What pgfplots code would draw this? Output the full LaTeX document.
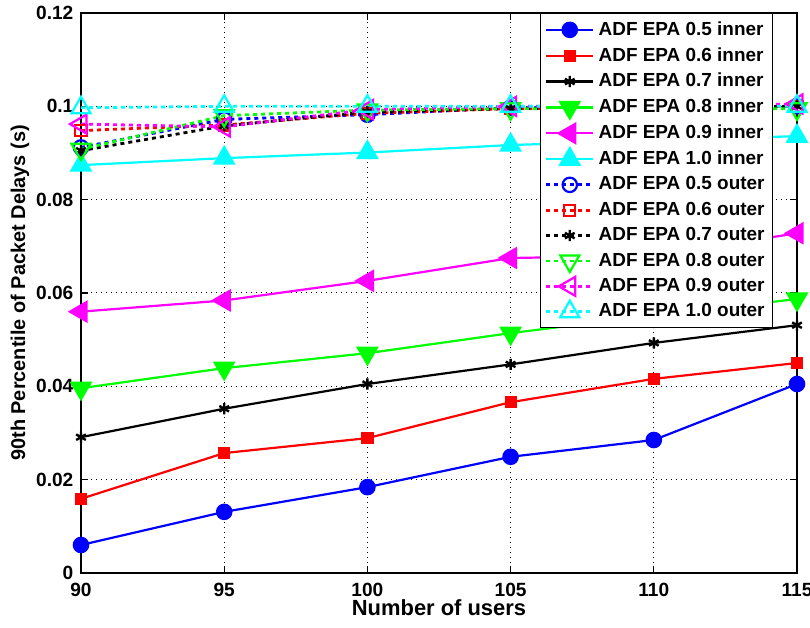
\documentclass[border=0pt]{standalone}
\usepackage{fontspec}
\setmainfont{Liberation Sans}
\usepackage{pgfplots}
\pgfplotsset{compat=1.18}
\definecolor{mblue}{rgb}{0,0,1}
\definecolor{mred}{rgb}{1,0,0}
\definecolor{mgreen}{rgb}{0,1,0}
\definecolor{mmag}{rgb}{1,0,1}
\definecolor{mcyan}{rgb}{0,1,1}
\begin{document}
\begin{tikzpicture}
\begin{axis}[
  scale only axis, width=358bp, height=280bp,
  xmin=90, xmax=115, ymin=0, ymax=0.12,
  xtick={90,95,100,105,110,115},
  ytick={0,0.02,0.04,0.06,0.08,0.1,0.12},
  yticklabels={0,0.02,0.04,0.06,0.08,0.1,0.12},
  /pgf/number format/assume math mode=true,
  ticklabel style={font=\bfseries\fontsize{9.6}{11.5}\selectfont},
  xticklabel style={yshift=-1.5bp},
  yticklabel style={xshift=-0.3bp},
  tick align=inside, major tick length=3.5bp,
  tick style={black, line width=0.6bp},
  axis line style={line width=1.1bp},
  grid=major,
  major grid style={black, line width=0.5bp, dash pattern=on 0.5bp off 2bp},
  xlabel={Number of users},
  ylabel={90th Percentile of Packet Delays (s)},
  xlabel style={font=\bfseries\fontsize{11}{13}\selectfont, at={(axis description cs:0.5,0)}, anchor=center, yshift=-17.5bp},
  ylabel style={font=\bfseries\fontsize{10}{12}\selectfont, at={(axis description cs:0,0.5)}, anchor=center, yshift=30.5bp},
  legend style={at={(axis description cs:0.9665,1)}, anchor=north east, draw=black, line width=0.5bp,
    row sep=0.6bp, inner sep=2bp,
    nodes={font=\bfseries\fontsize{9.5}{11}\selectfont, inner xsep=2bp}},
  legend cell align=left,
  legend image code/.code={\draw[mark repeat=2,mark phase=2,#1] plot coordinates {(0bp,0bp) (11.75bp,0bp) (23.5bp,0bp)};},
  every axis plot/.append style={line width=1.1bp},
  clip=false,
]
% inner (solid)
\addplot[color=mblue, mark=*, mark size=3.6bp, mark options={solid}] coordinates {(90,0.0060) (95,0.0131) (100,0.0184) (105,0.0249) (110,0.0285) (115,0.0405)};
\addlegendentry{ADF EPA 0.5 inner}
\addplot[color=mred, mark=square*, mark size=2.5bp, mark options={solid}] coordinates {(90,0.0159) (95,0.0257) (100,0.0289) (105,0.0366) (110,0.0416) (115,0.0450)};
\addlegendentry{ADF EPA 0.6 inner}
\addplot[color=black, mark=asterisk, mark size=2.8bp, mark options={solid, line width=1.2bp}] coordinates {(90,0.0291) (95,0.0352) (100,0.0405) (105,0.0447) (110,0.0493) (115,0.0531)};
\addlegendentry{ADF EPA 0.7 inner}
\addplot[color=mgreen, mark=triangle*, mark size=5.5bp, mark options={solid, rotate=180}] coordinates {(90,0.0396) (95,0.0439) (100,0.0471) (105,0.0514) (110,0.0552) (115,0.0587)};
\addlegendentry{ADF EPA 0.8 inner}
\addplot[color=mmag, mark=triangle*, mark size=5.5bp, mark options={solid, rotate=90}] coordinates {(90,0.0560) (95,0.0584) (100,0.0626) (105,0.0675) (110,0.0680) (115,0.0728)};
\addlegendentry{ADF EPA 0.9 inner}
\addplot[color=mcyan, mark=triangle*, mark size=5.5bp, mark options={solid}] coordinates {(90,0.0874) (95,0.0889) (100,0.0901) (105,0.0917) (110,0.0927) (115,0.0936)};
\addlegendentry{ADF EPA 1.0 inner}
% outer (dotted)
\addplot[color=mblue, line width=1.4bp, dash pattern=on 2bp off 2bp, mark=o, mark size=3.6bp, mark options={solid, line width=1.1bp}] coordinates {(90,0.0912) (95,0.0972) (100,0.0982) (105,0.0997) (110,0.0998) (115,0.1000)};
\addlegendentry{ADF EPA 0.5 outer}
\addplot[color=mred, line width=1.4bp, dash pattern=on 2bp off 2bp, mark=square, mark size=2.8bp, mark options={solid, line width=1.1bp}] coordinates {(90,0.0948) (95,0.0960) (100,0.0985) (105,0.0995) (110,0.0998) (115,0.1000)};
\addlegendentry{ADF EPA 0.6 outer}
\addplot[color=black, line width=1.4bp, dash pattern=on 2bp off 2bp, mark=asterisk, mark size=2.8bp, mark options={solid, line width=1.2bp}] coordinates {(90,0.0905) (95,0.0958) (100,0.0988) (105,0.0995) (110,0.0998) (115,0.1000)};
\addlegendentry{ADF EPA 0.7 outer}
\addplot[color=mgreen, line width=1.4bp, dash pattern=on 2bp off 2bp, mark=triangle, mark size=5.5bp, mark options={solid, rotate=180, line width=1.1bp}] coordinates {(90,0.0908) (95,0.0980) (100,0.0992) (105,0.0995) (110,0.0995) (115,0.0995)};
\addlegendentry{ADF EPA 0.8 outer}
\addplot[color=mmag, line width=1.4bp, dash pattern=on 2bp off 2bp, mark=triangle, mark size=5.5bp, mark options={solid, rotate=90, line width=1.1bp}] coordinates {(90,0.0962) (95,0.0956) (100,0.0993) (105,0.1000) (110,0.1000) (115,0.1005)};
\addlegendentry{ADF EPA 0.9 outer}
\addplot[color=mcyan, line width=1.4bp, dash pattern=on 2bp off 2bp, mark=triangle, mark size=5.5bp, mark options={solid, line width=1.1bp}] coordinates {(90,0.0997) (95,0.1000) (100,0.1000) (105,0.1000) (110,0.1000) (115,0.1000)};
\addlegendentry{ADF EPA 1.0 outer}
\end{axis}
\pgfresetboundingbox
\path[use as bounding box] ([shift={(-40.5bp,-27.5bp)}]current axis.south west) rectangle ([shift={(6.5bp,6.5bp)}]current axis.north east);
\end{tikzpicture}
\end{document}
